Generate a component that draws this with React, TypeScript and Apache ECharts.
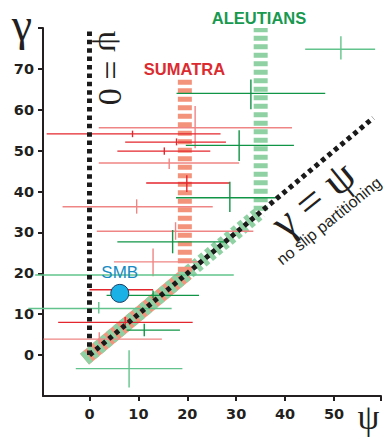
import React, { useEffect, useRef } from "react";
import * as echarts from "echarts";

// [x, y, xLow, xHigh, yLow, yHigh]
const sumatraStrong = [
  [8.8, 54.1, -8.75, 26.8, 53.3, 54.9],
  [17.8, 52.1, 7.3, 27.9, 51.3, 53.0],
  [15.3, 49.9, 5.7, 24.7, 49.0, 50.8],
  [19.9, 42.1, 11.6, 28.7, 39.9, 44.0],
  [6.2, 16.0, 0.0, 13.0, 16.0, 16.0],
  [7.3, 8.0, -6.4, 21.1, 6.9, 9.3],
];
const sumatraPale = [
  [21.6, 55.6, 1.9, 41.4, 50.6, 60.9],
  [16.3, 47.0, 1.9, 30.6, 45.5, 48.1],
  [9.65, 36.3, -5.5, 25.2, 34.6, 38.1],
  [17.6, 30.3, 1.5, 33.5, 28.2, 32.5],
  [13.0, 22.8, 5.0, 23.0, 19.3, 26.1],
  [2.0, 3.9, -9.4, 14.8, 2.7, 5.6],
];
const aleutiansStrong = [
  [33.0, 64.0, 17.8, 48.2, 60.1, 67.4],
  [30.6, 51.3, 19.7, 41.8, 47.5, 55.0],
  [28.7, 38.5, 17.7, 38.1, 35.0, 42.4],
  [17.0, 27.7, 5.7, 28.0, 24.9, 30.6],
  [13.0, 14.6, 3.5, 22.4, 13.9, 15.8],
  [11.2, 6.1, 7.6, 18.5, 4.6, 7.7],
];
const aleutiansPale = [
  [51.4, 74.8, 44.1, 58.4, 72.3, 78.0],
  [9.0, 19.6, -11.1, 29.5, 19.6, 19.6],
  [1.9, 11.4, -12.5, 16.8, 10.2, 13.0],
  [8.1, -3.3, -2.8, 19.0, -7.9, 1.2],
];
const smbPoint = [[6.2, 15.1]];

const sumatraBand = [[19.5, 20.4], [19.5, 67.5]];
const aleutiansBand = [[35, 35.3], [35, 80]];
const sumatraDiagonal = [[-1, -1], [20, 20]];
const aleutiansDiagonal = [[-1, -1], [35, 35]];
const psiZeroLine = [[0, 0], [0, 79.5]];
const gammaPsiLine = [[0, 0], [58, 58]];

const xTicks = [0, 10, 20, 30, 40, 50, 59.6];
const xLabels = [0, 10, 20, 30, 40, 50];
const yTicks = [0, 10, 20, 30, 40, 50, 60, 70, 80];
const yLabels = [0, 10, 20, 30, 40, 50, 60, 70];

const INK = "#231f20";

function errSeries(data: number[][], color: string) {
  return {
    type: "custom",
    clip: false,
    silent: true,
    z: 3,
    encode: { x: [0, 2, 3], y: [1, 4, 5] },
    data,
    renderItem: (params: any, api: any) => {
      const x = api.value(0), y = api.value(1);
      const xl = api.value(2), xh = api.value(3), yl = api.value(4), yh = api.value(5);
      const a = api.coord([xl, y]), b = api.coord([xh, y]);
      const c = api.coord([x, yl]), d = api.coord([x, yh]);
      const style = { stroke: color, lineWidth: 1.4, fill: "none" };
      const children: any[] = [
        { type: "line", shape: { x1: a[0], y1: a[1], x2: b[0], y2: b[1] }, style },
      ];
      if (yh > yl) {
        children.push({ type: "line", shape: { x1: c[0], y1: c[1], x2: d[0], y2: d[1] }, style });
      }
      return { type: "group", children };
    },
  };
}

function lineSeries(data: number[][], color: string, width: number, dash: any, z: number) {
  return {
    type: "line",
    data,
    symbol: "none",
    silent: true,
    z,
    lineStyle: { color, width, type: dash, cap: "butt" },
  };
}

export default function App() {
  const ref = useRef<HTMLDivElement>(null);
  useEffect(() => {
    if (!ref.current) return;
    const chart = echarts.init(ref.current, null, { renderer: "svg" });
    const labelStyle = { fontFamily: "DejaVu Sans", fontWeight: "bold", fontSize: 14.5, color: INK };
    chart.setOption({
      animation: false,
      backgroundColor: "#ffffff",
      grid: { left: 43, right: 7, top: 28, bottom: 41 },
      xAxis: {
        type: "value",
        min: -9.5,
        max: 59.6,
        axisLine: { show: true, onZero: false, lineStyle: { color: INK, width: 2 } },
        axisTick: { show: true, customValues: xTicks, length: 5, lineStyle: { color: INK, width: 2 } },
        axisLabel: { ...labelStyle, customValues: xLabels, margin: 10 },
        splitLine: { show: false },
      },
      yAxis: {
        type: "value",
        min: -10,
        max: 80,
        axisLine: { show: true, onZero: false, lineStyle: { color: INK, width: 2 } },
        axisTick: { show: true, customValues: yTicks, length: 5, lineStyle: { color: INK, width: 2 } },
        axisLabel: { ...labelStyle, customValues: yLabels, margin: 9 },
        splitLine: { show: false },
      },
      series: [
        lineSeries(sumatraDiagonal, "#f4937b", 14, "solid", 1),
        lineSeries(aleutiansDiagonal, "#8fd1a3", 14, [5, 3.5], 1),
        lineSeries(sumatraBand, "#f4937b", 14, [5, 3.5], 1),
        lineSeries(aleutiansBand, "#8fd1a3", 14, [5, 3.5], 1),
        errSeries(sumatraPale, "#f08585"),
        errSeries(sumatraStrong, "#e3262d"),
        errSeries(aleutiansPale, "#62c48c"),
        errSeries(aleutiansStrong, "#109446"),
        lineSeries(psiZeroLine, "#1a1a1a", 5, [4.5, 3.9], 4),
        lineSeries(gammaPsiLine, "#1a1a1a", 5, [4.5, 3.9], 4),
        {
          type: "scatter",
          name: "SMB",
          data: smbPoint,
          symbolSize: 18,
          z: 5,
          silent: true,
          itemStyle: { color: "#19b1e6", borderColor: "#1d3f63", borderWidth: 1, opacity: 1 },
          label: {
            show: true,
            position: "top",
            distance: 3,
            formatter: "{a}",
            fontFamily: "Liberation Sans",
            fontSize: 17,
            color: "#168cc4",
          },
        },
      ],
      graphic: [
        { type: "text", x: 22, y: 24, style: { text: "γ", font: '46px "Liberation Serif"', fill: INK, align: "center", verticalAlign: "middle" } },
        { type: "text", x: 368.5, y: 417, style: { text: "ψ", font: '35px "Liberation Serif"', fill: INK, align: "center", verticalAlign: "middle" } },
        { type: "text", x: 110, y: 68, rotation: -Math.PI / 2, style: { text: "ψ = 0", font: '34px "Liberation Serif"', fill: INK, align: "center", verticalAlign: "middle" } },
        { type: "text", x: 313, y: 199, rotation: 0.68, style: { text: "γ = ψ", font: '44px "Liberation Serif"', fill: INK, align: "center", verticalAlign: "middle" } },
        { type: "text", x: 329, y: 221, rotation: 0.68, style: { text: "no slip partitioning", font: '16px "Liberation Sans"', fill: INK, align: "center", verticalAlign: "middle" } },
        { type: "text", x: 184.5, y: 68.5, style: { text: "SUMATRA", font: 'bold 16.5px "Liberation Sans"', fill: "#dc2b30", align: "center", verticalAlign: "middle" } },
        { type: "text", x: 259, y: 18, style: { text: "ALEUTIANS", font: 'bold 16.5px "Liberation Sans"', fill: "#17994f", align: "center", verticalAlign: "middle" } },
      ],
    });
    return () => chart.dispose();
  }, []);
  return (
    <div
      ref={ref}
      style={{ position: "fixed", left: 0, top: 0, width: 388, height: 437, background: "#fff" }}
    />
  );
}
